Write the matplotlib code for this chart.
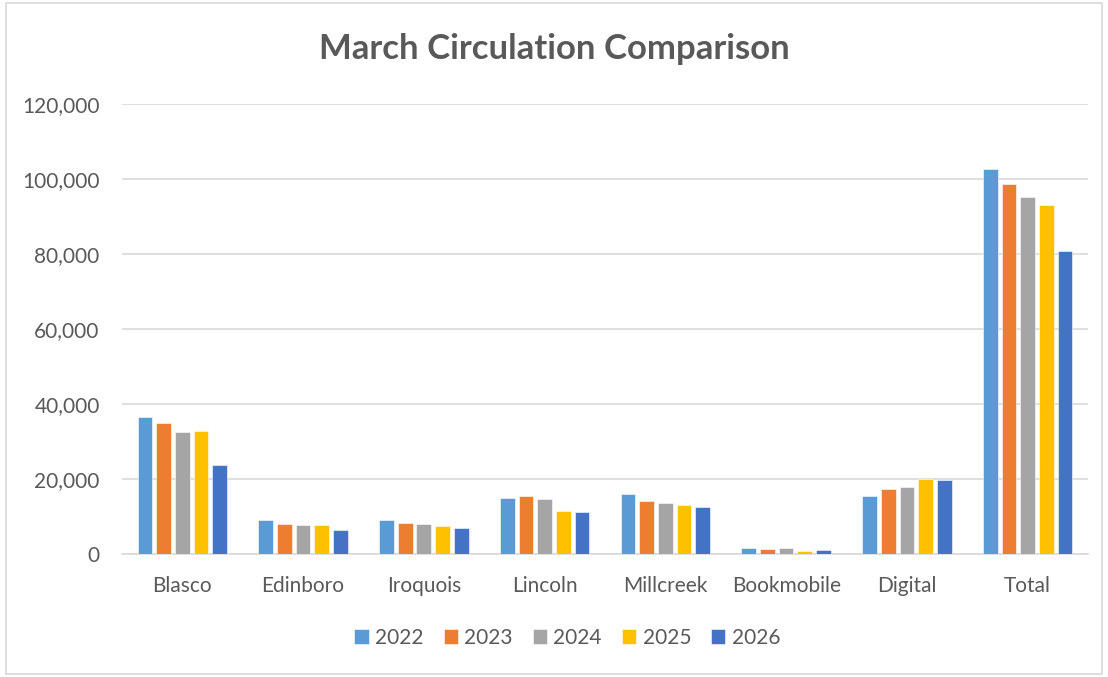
import numpy as np
import matplotlib
matplotlib.use('Agg')
from matplotlib import pyplot as plt
from matplotlib.patches import Rectangle

# 数据
branches = ['Blasco', 'Edinboro', 'Iroquois', 'Lincoln', 'Millcreek', 'Bookmobile', 'Digital', 'Total']
years = ['2022', '2023', '2024', '2025', '2026']
v2022 = [36500, 9100, 9100, 14800, 16000, 1700, 15400, 102700]
v2023 = [34900, 7900, 8200, 15400, 14200, 1250, 17200, 98700]
v2024 = [32400, 7700, 7900, 14600, 13600, 1500, 17800, 95100]
v2025 = [32800, 7600, 7500, 11400, 13000, 900, 20000, 93000]
v2026 = [23700, 6300, 6800, 11100, 12400, 1000, 19600, 80800]
series = [v2022, v2023, v2024, v2025, v2026]
colors = ['#5B9BD5', '#ED7D31', '#A5A5A5', '#FFC000', '#4472C4']

txt = '#595959'
plt.rcParams['font.family'] = ['Lato', 'DejaVu Sans']

fig = plt.figure(figsize=(11.08, 6.77), dpi=100)
ax = fig.add_axes([0.110, 0.1817, 0.872, 0.6647])

# 外框
fig.patches.append(Rectangle((0.005, 0.005), 0.99, 0.99, transform=fig.transFigure,
                             fill=False, edgecolor='#D9D9D9', linewidth=1.2))

x = np.arange(len(branches))
width = 0.122
pitch = 0.1546
for i, vals in enumerate(series):
    ax.bar(x + (i - 2) * pitch, vals, width, color=colors[i], label=years[i],
           edgecolor='white', linewidth=0.4, zorder=3)

ax.set_xlim(-0.5, len(branches) - 0.5)
ax.set_ylim(0, 120000)
ax.set_yticks(range(0, 120001, 20000))
ax.set_yticklabels(['{:,}'.format(v) for v in range(0, 120001, 20000)])
ax.set_xticks(x)
ax.set_xticklabels(branches)
ax.grid(axis='y', color='#D9D9D9', linewidth=1.2, zorder=0)
for s in ['top', 'right', 'left']:
    ax.spines[s].set_visible(False)
ax.spines['bottom'].set_color('#D9D9D9')
ax.spines['bottom'].set_linewidth(1.2)
ax.tick_params(axis='both', length=0, labelsize=15, labelcolor=txt)
ax.tick_params(axis='y', pad=16)
ax.tick_params(axis='x', pad=16)

fig.text(0.5, 0.927, 'March Circulation Comparison', ha='center', va='center',
         fontsize=25, fontweight='bold', color=txt)

leg = fig.legend(loc='center', bbox_to_anchor=(0.512, 0.058), ncol=5, frameon=False,
                 fontsize=15, handlelength=0.7, handleheight=0.7, columnspacing=0.95,
                 handletextpad=0.3)
for t in leg.get_texts():
    t.set_color(txt)

fig.savefig('out.png', dpi=100)
